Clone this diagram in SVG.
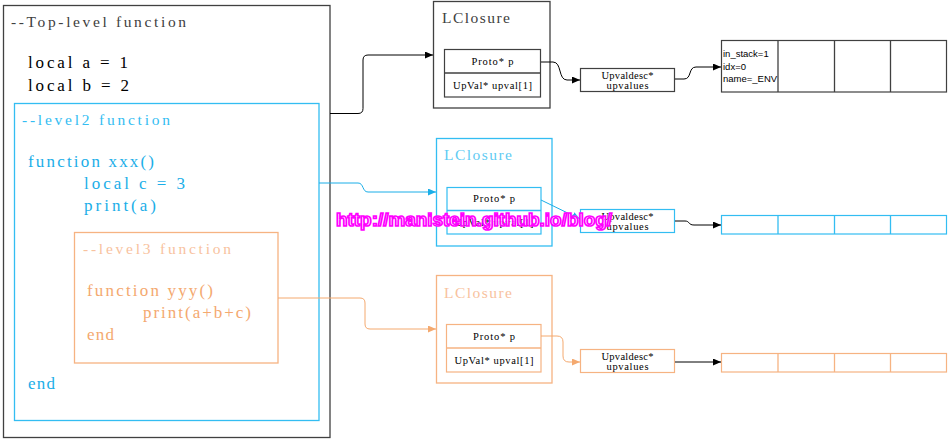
<svg xmlns="http://www.w3.org/2000/svg" width="950" height="441" viewBox="0 0 950 441">
<defs>
<style>
.code{font-family:"Liberation Serif","Times New Roman",serif;font-size:17px}
.hdr{font-family:"Liberation Serif","Times New Roman",serif;font-size:15.5px}
.sm{font-family:"Liberation Serif","Times New Roman",serif;font-size:10.5px;text-anchor:middle;fill:#000}
.arr{font-family:"Liberation Sans",Arial,sans-serif;font-size:9.5px;fill:#000}
.k{fill:none;stroke:#404040;stroke-width:1.3}
.b{fill:none;stroke:#33BDF2;stroke-width:1.3}
.o{fill:none;stroke:#F6B382;stroke-width:1.3}
.kw{fill:#fff;stroke:#404040;stroke-width:1.2}
.bw{fill:#fff;stroke:#33BDF2;stroke-width:1.2}
.ow{fill:#fff;stroke:#F6B382;stroke-width:1.2}
.ck{fill:none;stroke:#000;stroke-width:1}
.cb{fill:none;stroke:#1AAEE8;stroke-width:1}
.co{fill:none;stroke:#F4A96F;stroke-width:1}
</style>
<marker id="ak" viewBox="0 0 8 7" refX="8" refY="3.5" markerWidth="8" markerHeight="7" markerUnits="userSpaceOnUse" orient="auto"><path d="M0,0 L8,3.5 L0,7 z" fill="#000"/></marker>
<marker id="ab" viewBox="0 0 8 7" refX="8" refY="3.5" markerWidth="8" markerHeight="7" markerUnits="userSpaceOnUse" orient="auto"><path d="M0,0 L8,3.5 L0,7 z" fill="#1AAEE8"/></marker>
<marker id="ao" viewBox="0 0 8 7" refX="8" refY="3.5" markerWidth="8" markerHeight="7" markerUnits="userSpaceOnUse" orient="auto"><path d="M0,0 L8,3.5 L0,7 z" fill="#F4A96F"/></marker>
</defs>
<rect width="950" height="441" fill="#fff"/>

<g id="top-level">
<rect x="3.5" y="5.5" width="326.5" height="432" class="k"/>
<text x="11" y="27" class="hdr" fill="#404040" textLength="175" lengthAdjust="spacing">--Top-level function</text>
<text x="28" y="68" class="code" fill="#000" textLength="100" lengthAdjust="spacing">local a = 1</text>
<text x="28" y="91" class="code" fill="#000" textLength="101" lengthAdjust="spacing">local b = 2</text>
</g>

<g id="level2">
<rect x="14.5" y="103.5" width="304.5" height="317" class="b"/>
<text x="22" y="125" class="hdr" fill="#33BDF2" textLength="148" lengthAdjust="spacing">--level2 function</text>
<text x="28" y="167" class="code" fill="#1AAEE8" textLength="126" lengthAdjust="spacing">function xxx()</text>
<text x="84" y="189" class="code" fill="#1AAEE8" textLength="101" lengthAdjust="spacing">local c = 3</text>
<text x="84" y="211" class="code" fill="#1AAEE8" textLength="72" lengthAdjust="spacing">print(a)</text>
<text x="28" y="389" class="code" fill="#1AAEE8" textLength="27" lengthAdjust="spacing">end</text>
</g>

<g id="level3">
<rect x="74.5" y="232.5" width="203.5" height="130.5" class="o"/>
<text x="83" y="254" class="hdr" fill="#F8C29E" textLength="148" lengthAdjust="spacing">--level3 function</text>
<text x="87" y="296" class="code" fill="#F4A96F" textLength="126" lengthAdjust="spacing">function yyy()</text>
<text x="143" y="318" class="code" fill="#F4A96F" textLength="108" lengthAdjust="spacing">print(a+b+c)</text>
<text x="87" y="340" class="code" fill="#F4A96F" textLength="27" lengthAdjust="spacing">end</text>
</g>

<g id="lclosure-top">
<rect x="433.5" y="1.5" width="116.5" height="106.5" class="k"/>
<text x="442" y="23" class="hdr" fill="#404040" textLength="68" lengthAdjust="spacing">LClosure</text>
<rect x="444.5" y="49.5" width="96" height="47.5" class="kw"/>
<line x1="444.5" y1="73" x2="540.5" y2="73" class="k" stroke-width="1"/>
<text x="492.5" y="65" class="sm" textLength="42" lengthAdjust="spacing">Proto* p</text>
<text x="492.5" y="89" class="sm" textLength="79" lengthAdjust="spacing">UpVal* upval[1]</text>
</g>

<g id="upvaldesc-top">
<rect x="580.5" y="68.5" width="94" height="23" class="kw"/>
<text x="627.5" y="78.5" class="sm" textLength="52" lengthAdjust="spacing">Upvaldesc*</text>
<text x="627.5" y="89" class="sm" textLength="42" lengthAdjust="spacing">upvalues</text>
</g>

<g id="array-top">
<rect x="721.5" y="40.5" width="225" height="51.5" class="kw"/>
<line x1="778" y1="40.5" x2="778" y2="92" class="k"/>
<line x1="834.5" y1="40.5" x2="834.5" y2="92" class="k"/>
<line x1="890.5" y1="40.5" x2="890.5" y2="92" class="k"/>
<text x="723" y="57" class="arr">in_stack=1</text>
<text x="723" y="69.5" class="arr">idx=0</text>
<text x="723" y="82" class="arr">name=_ENV</text>
</g>

<g id="lclosure-level2">
<rect x="436.5" y="138.5" width="115.5" height="107.5" class="b"/>
<text x="444" y="160" class="hdr" fill="#5FCBF3" textLength="68" lengthAdjust="spacing">LClosure</text>
<rect x="447" y="187.5" width="94" height="46.5" class="bw"/>
<line x1="447" y1="210.5" x2="541" y2="210.5" class="b" stroke-width="1"/>
<text x="494" y="202" class="sm" textLength="42" lengthAdjust="spacing">Proto* p</text>
<text x="494" y="226" class="sm" textLength="79" lengthAdjust="spacing">UpVal* upval[1]</text>
</g>

<g id="upvaldesc-level2">
<rect x="580.5" y="209.5" width="94" height="23" class="bw"/>
<text x="627.5" y="219.5" class="sm" textLength="52" lengthAdjust="spacing">Upvaldesc*</text>
<text x="627.5" y="230" class="sm" textLength="42" lengthAdjust="spacing">upvalues</text>
</g>

<g id="array-level2">
<rect x="721.5" y="215.5" width="225" height="18.5" class="bw"/>
<line x1="778" y1="215.5" x2="778" y2="234" class="b"/>
<line x1="834.5" y1="215.5" x2="834.5" y2="234" class="b"/>
<line x1="890.5" y1="215.5" x2="890.5" y2="234" class="b"/>
</g>

<g id="lclosure-level3">
<rect x="436.5" y="275.5" width="115.5" height="107.5" class="o"/>
<text x="444" y="298" class="hdr" fill="#F8C29E" textLength="68" lengthAdjust="spacing">LClosure</text>
<rect x="446.5" y="324.5" width="94.5" height="47.5" class="ow"/>
<line x1="446.5" y1="348" x2="541" y2="348" class="o" stroke-width="1"/>
<text x="494" y="340" class="sm" textLength="42" lengthAdjust="spacing">Proto* p</text>
<text x="494" y="363.5" class="sm" textLength="79" lengthAdjust="spacing">UpVal* upval[1]</text>
</g>

<g id="upvaldesc-level3">
<rect x="580.5" y="349.5" width="94" height="23" class="ow"/>
<text x="627.5" y="359.5" class="sm" textLength="52" lengthAdjust="spacing">Upvaldesc*</text>
<text x="627.5" y="370" class="sm" textLength="42" lengthAdjust="spacing">upvalues</text>
</g>

<g id="array-level3">
<rect x="721.5" y="353.5" width="225" height="18.5" class="ow"/>
<line x1="778" y1="353.5" x2="778" y2="372" class="o"/>
<line x1="834.5" y1="353.5" x2="834.5" y2="372" class="o"/>
<line x1="890.5" y1="353.5" x2="890.5" y2="372" class="o"/>
</g>

<g id="connectors">
<path d="M330,113.5 H358 Q363,113.5 363,108.5 V60 Q363,55 368,55 H433" class="ck" marker-end="url(#ak)"/>
<path d="M541,62 H553 C562,62 558,80 567,80 H580" class="ck" marker-end="url(#ak)"/>
<path d="M675,79 H684 C692,79 688,67 696,67 H721" class="ck" marker-end="url(#ak)"/>
<path d="M319,183 H358 C364,183 362,192 368,192 H436" class="cb" marker-end="url(#ab)"/>
<path d="M541,200 L580,219" class="cb" marker-end="url(#ab)"/>
<path d="M675,221 H685 C690,221 688,225 694,225 H721" class="ck" marker-end="url(#ak)"/>
<path d="M278,298 H360 Q365,298 365,303 V324 Q365,329 370,329 H436" class="co" marker-end="url(#ao)"/>
<path d="M541,336 H557 Q563,336 563,342 V356 Q563,362 569,362 H580" class="co" marker-end="url(#ao)"/>
<path d="M675,362 H721" class="ck" marker-end="url(#ak)"/>
</g>

<text x="336" y="226" font-family="Liberation Sans, Arial, sans-serif" font-weight="bold" font-size="17.5" textLength="276" lengthAdjust="spacingAndGlyphs" fill="#fff" fill-opacity="0.75" stroke="#FF00FF" stroke-width="1.6">http://manistein.github.io/blog/</text>
</svg>
